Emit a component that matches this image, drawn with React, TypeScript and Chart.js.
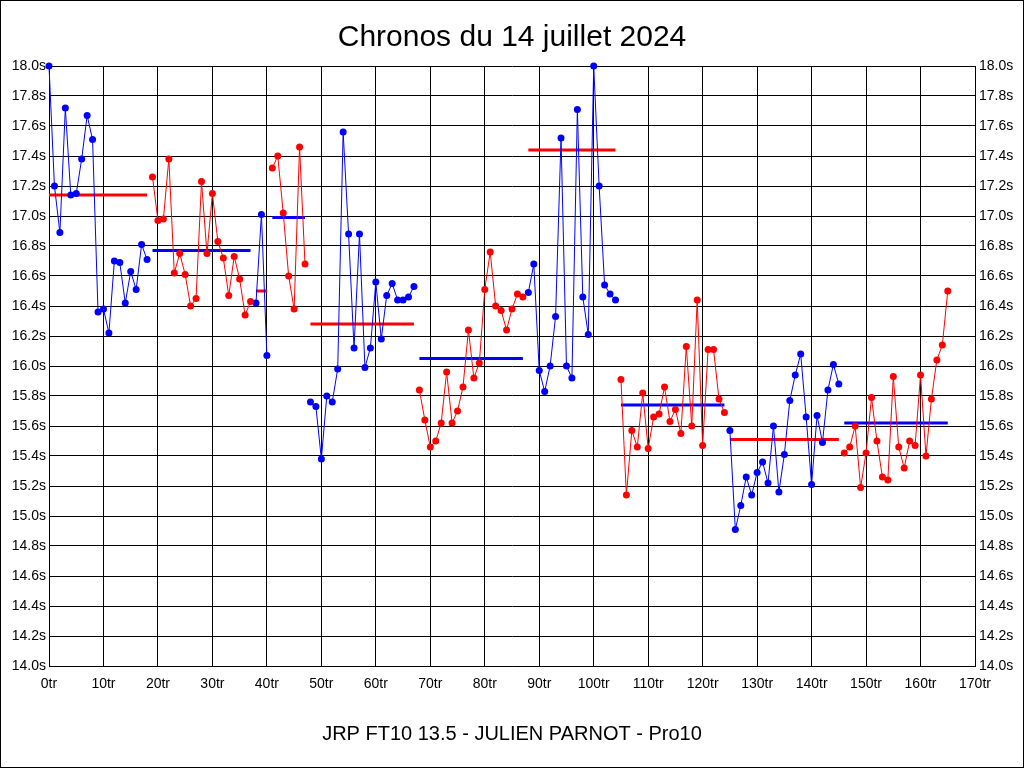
import React, { useEffect, useRef } from 'react';
import { Chart, registerables } from 'chart.js';

Chart.register(...registerables);

// lap times per stint (seconds)
const stint1 = [18.0, 17.2, 16.89, 17.72, 17.14, 17.15, 17.38, 17.67, 17.51, 16.36, 16.38, 16.22, 16.7, 16.69, 16.42, 16.63, 16.51, 16.81, 16.71];
const stint2 = [17.26, 16.97, 16.98, 17.38, 16.62, 16.75, 16.61, 16.4, 16.45, 17.23, 16.75, 17.15, 16.83, 16.72, 16.47, 16.73, 16.58, 16.34, 16.43];
const stint3 = [16.42, 17.01, 16.07];
const stint4 = [17.32, 17.4, 17.02, 16.6, 16.38, 17.46, 16.68];
const stint5 = [15.76, 15.73, 15.38, 15.8, 15.76, 15.98, 17.56, 16.88, 16.12, 16.88, 15.99, 16.12, 16.56, 16.18, 16.47, 16.55, 16.44, 16.44, 16.46, 16.53];
const stint6 = [15.84, 15.64, 15.46, 15.5, 15.62, 15.96, 15.62, 15.7, 15.86, 16.24, 15.92, 16.02, 16.51, 16.76, 16.4, 16.37, 16.24, 16.38, 16.48, 16.46];
const stint7 = [16.49, 16.68, 15.97, 15.83, 16.0, 16.33, 17.52, 16.0, 15.92, 17.71, 16.46, 16.21, 18.0, 17.2, 16.54, 16.48, 16.44];
const stint8 = [15.91, 15.14, 15.57, 15.46, 15.82, 15.45, 15.66, 15.68, 15.86, 15.63, 15.71, 15.55, 16.13, 15.6, 16.44, 15.47, 16.11, 16.11, 15.78, 15.69];
const stint9 = [15.57, 14.91, 15.07, 15.26, 15.14, 15.29, 15.36, 15.22, 15.6, 15.16, 15.41, 15.77, 15.94, 16.08, 15.66, 15.21, 15.67, 15.49, 15.84, 16.01, 15.88];
const stint10 = [15.42, 15.46, 15.6, 15.19, 15.42, 15.79, 15.5, 15.26, 15.24, 15.93, 15.46, 15.32, 15.5, 15.47, 15.94, 15.4, 15.78, 16.04, 16.14, 16.5];

const stints = [stint1, stint2, stint3, stint4, stint5, stint6, stint7, stint8, stint9, stint10];
const stintStartLaps = [0, 19, 38, 41, 48, 68, 88, 105, 125, 146];
const stintAverages = [17.14, 16.77, 16.5, 16.99, 16.28, 16.05, 17.44, 15.74, 15.51, 15.62];

const chartTitle = 'Chronos du 14 juillet 2024';
const xTitle = 'JRP FT10 13.5 - JULIEN PARNOT - Pro10';

const BLUE = '#0000ff';
const RED = '#ff0000';
const FONT = "'Liberation Sans', Arial, sans-serif";

const frame = {
  id: 'frame',
  afterDraw(chart: Chart) {
    const { ctx } = chart;
    ctx.save();
    ctx.strokeStyle = '#000';
    ctx.lineWidth = 1;
    ctx.strokeRect(0.5, 0.5, chart.width - 1, chart.height - 1);
    ctx.restore();
  },
};

export default function App() {
  const canvasRef = useRef<HTMLCanvasElement>(null);

  useEffect(() => {
    if (!canvasRef.current) return;

    const lapDatasets = stints.map((times, i) => {
      const color = i % 2 === 0 ? BLUE : RED;
      return {
        data: times.map((t, k) => ({ x: stintStartLaps[i] + k, y: t })),
        borderColor: color,
        backgroundColor: color,
        pointBackgroundColor: color,
        borderWidth: 1,
        pointRadius: 3.5,
        pointBorderWidth: 0,
        tension: 0,
        clip: false as const,
        order: 0,
      };
    });

    const avgDatasets = stints.map((times, i) => {
      const color = i % 2 === 0 ? RED : BLUE;
      const start = stintStartLaps[i];
      return {
        data: [
          { x: start, y: stintAverages[i] },
          { x: start + times.length - 1, y: stintAverages[i] },
        ],
        borderColor: color,
        backgroundColor: color,
        borderWidth: 3,
        pointRadius: 0,
        clip: false as const,
        order: 1,
      };
    });

    const tickFont = { family: FONT, size: 14 };

    const chart = new Chart(canvasRef.current, {
      type: 'line',
      data: { datasets: [...lapDatasets, ...avgDatasets] },
      options: {
        responsive: false,
        devicePixelRatio: 1,
        animation: false,
        layout: { padding: 0 },
        plugins: {
          legend: { display: false },
          tooltip: { enabled: false },
          title: {
            display: true,
            text: chartTitle,
            color: '#000',
            font: { family: FONT, size: 30, weight: 'normal' },
            padding: { top: 20, bottom: 10 },
          },
        },
        scales: {
          x: {
            type: 'linear',
            min: 0,
            max: 170,
            afterFit: (scale) => {
              scale.height = 102;
            },
            grid: { color: '#000', lineWidth: 1, drawTicks: false },
            border: { color: '#000', width: 1 },
            ticks: {
              stepSize: 10,
              autoSkip: false,
              maxRotation: 0,
              padding: 10,
              color: '#000',
              font: tickFont,
              callback: (v) => `${v}tr`,
            },
            title: {
              display: true,
              text: xTitle,
              color: '#000',
              font: { family: FONT, size: 20 },
              padding: { top: 0, bottom: 22 },
            },
          },
          y: {
            position: 'left',
            min: 14,
            max: 18,
            afterFit: (scale) => {
              scale.width = 49;
            },
            grid: { color: '#000', lineWidth: 1, drawTicks: false },
            border: { color: '#000', width: 1 },
            ticks: {
              stepSize: 0.2,
              autoSkip: false,
              padding: 3,
              color: '#000',
              font: tickFont,
              callback: (v) => `${Number(v).toFixed(1)}s`,
            },
          },
          y2: {
            position: 'right',
            min: 14,
            max: 18,
            afterFit: (scale) => {
              scale.width = 49;
            },
            grid: { display: false, drawTicks: false },
            border: { color: '#000', width: 1 },
            ticks: {
              stepSize: 0.2,
              autoSkip: false,
              padding: 4,
              color: '#000',
              font: tickFont,
              callback: (v) => `${Number(v).toFixed(1)}s`,
            },
          },
        },
      },
      plugins: [frame],
    });

    return () => {
      chart.destroy();
    };
  }, []);

  return (
    <div style={{ position: 'fixed', left: 0, top: 0, width: 1024, height: 768, background: '#fff' }}>
      <canvas ref={canvasRef} width={1024} height={768} />
    </div>
  );
}
